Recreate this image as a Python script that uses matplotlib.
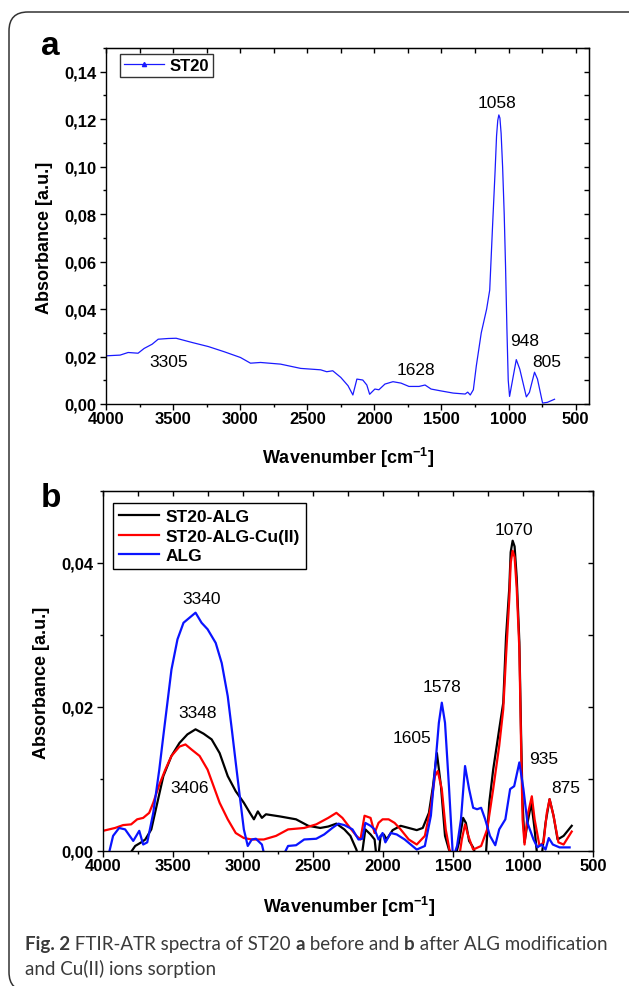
import matplotlib
matplotlib.use("Agg")
import matplotlib.pyplot as plt
from matplotlib.ticker import MultipleLocator, FuncFormatter
from matplotlib.patches import FancyBboxPatch

plt.rcParams['font.family'] = ['Liberation Sans', 'DejaVu Sans']
plt.rcParams['mathtext.fontset'] = 'custom'
plt.rcParams['mathtext.rm'] = 'Liberation Sans'
plt.rcParams['mathtext.bf'] = 'Liberation Sans:bold'
plt.rcParams['mathtext.default'] = 'bf'
plt.rcParams['axes.unicode_minus'] = False

# Panel a: ST20 spectrum
st20_wn = [4000, 3895, 3835, 3761, 3716, 3656, 3611, 3536, 3477, 3357, 3237, 3118,
           2998, 2923, 2848, 2699, 2549, 2400, 2355, 2310, 2250, 2196, 2160, 2130,
           2086, 2056, 2035, 1996, 1966, 1921, 1861, 1801, 1742, 1667, 1622, 1577,
           1502, 1412, 1323, 1304, 1285, 1262, 1240, 1203, 1163, 1140, 1118, 1100,
           1089, 1080, 1072, 1064, 1055, 1044, 1032, 1022, 1012, 1002, 992, 964,
           942, 916, 867, 844, 806, 784, 746, 710, 657]
st20_ab = [0.0203, 0.0206, 0.0217, 0.0214, 0.0234, 0.0252, 0.0273, 0.0276, 0.0277, 0.0259, 0.0242, 0.0220,
           0.0196, 0.0172, 0.0175, 0.0168, 0.0150, 0.0144, 0.0136, 0.0140, 0.0112, 0.0077, 0.0038, 0.0105,
           0.0101, 0.0080, 0.0041, 0.0063, 0.0060, 0.0084, 0.0094, 0.0088, 0.0074, 0.0074, 0.0080, 0.0063,
           0.0055, 0.0046, 0.0042, 0.0050, 0.0038, 0.0060, 0.0160, 0.0300, 0.0400, 0.0480, 0.0760, 0.0980,
           0.1130, 0.1195, 0.1218, 0.1205, 0.1140, 0.1000, 0.0800, 0.0580, 0.0320, 0.0100, 0.0032, 0.0119,
           0.0187, 0.0147, 0.0030, 0.0049, 0.0134, 0.0105, 0.0004, 0.0007, 0.0020]
peaks_a = [("3305", 3531, 0.0181), ("1628", 1692, 0.0147), ("1058", 1089, 0.1269),
           ("948", 880, 0.0269), ("805", 716, 0.0181)]

# Panel b
alg_wn = [3966, 3928, 3885, 3842, 3784, 3741, 3713, 3684, 3641, 3598, 3569, 3540, 3511, 3468, 3425,
          3382, 3339, 3296, 3253, 3195, 3152, 3109, 3080, 3052, 3023, 2994, 2966, 2937, 2908, 2865,
          2836, 2736, 2678, 2621, 2563, 2477, 2420, 2362, 2319, 2276, 2218, 2175, 2147, 2126, 2089,
          2060, 2032, 2003, 1983, 1945, 1902, 1845, 1759, 1701, 1658, 1629, 1601, 1580, 1557, 1529,
          1500, 1471, 1443, 1414, 1385, 1356, 1328, 1299, 1270, 1236, 1198, 1170, 1126, 1092, 1063,
          1026, 997, 968, 925, 897, 868, 839, 816, 787, 739, 667]
alg_ab = [-0.001, 0.0021, 0.0032, 0.0030, 0.0014, 0.0028, 0.0009, 0.0012, 0.0053, 0.0113, 0.0160, 0.0206,
          0.0252, 0.0294, 0.0317, 0.0324, 0.0331, 0.0317, 0.0308, 0.0289, 0.0261, 0.0215, 0.0169, 0.0123,
          0.0076, 0.0030, 0.0007, 0.0016, 0.0017, 0.0009, -0.0015, -0.0015, 0.0007, 0.0008, 0.0016, 0.0017,
          0.0023, 0.0032, 0.0038, 0.0036, 0.0030, 0.0016, 0.0017, 0.0039, 0.0035, 0.0030, 0.0016, 0.0025,
          0.0012, 0.0025, 0.0023, 0.0016, 0.0002, 0.0007, 0.0049, 0.0113, 0.0178, 0.0206, 0.0178, 0.0090,
          -0.001, 0.0007, 0.0044, 0.0118, 0.0086, 0.0060, 0.0058, 0.0060, 0.0044, 0.0021, 0.0008, 0.0030,
          0.0044, 0.0086, 0.0090, 0.0123, 0.0086, 0.0039, 0.0016, 0.0005, 0.0009, 0.0002, 0.0018, 0.0009,
          0.0005, 0.0005]

st20alg_wn = [3830, 3770, 3727, 3698, 3655, 3612, 3569, 3511, 3454, 3397, 3339, 3282, 3224, 3167, 3109,
              3052, 2994, 2951, 2922, 2894, 2865, 2836, 2736, 2621, 2534, 2448, 2391, 2333, 2276, 2233,
              2190, 2161, 2126, 2089, 2060, 2040, 2017, 1994, 1974, 1931, 1874, 1816, 1759, 1716, 1672,
              1643, 1615, 1586, 1557, 1529, 1486, 1457, 1428, 1408, 1385, 1356, 1313, 1270, 1241, 1213,
              1170, 1141, 1121, 1098, 1088, 1074, 1060, 1045, 1026, 1014, 1003, 989, 968, 940, 917, 897,
              868, 839, 810, 782, 753, 710, 652]
st20alg_ab = [-0.001, 0.0007, 0.0012, 0.0016, 0.0030, 0.0067, 0.0104, 0.0132, 0.0150, 0.0162, 0.0169, 0.0163,
              0.0155, 0.0136, 0.0104, 0.0083, 0.0067, 0.0053, 0.0044, 0.0055, 0.0046, 0.0051, 0.0048, 0.0044,
              0.0035, 0.0032, 0.0034, 0.0038, 0.0030, 0.0021, 0.0002, -0.002, 0.0030, 0.0023, 0.0016, -0.002,
              0.0021, 0.0023, 0.0016, 0.0029, 0.0035, 0.0032, 0.0029, 0.0032, 0.0053, 0.0090, 0.0136, 0.0090,
              0.0021, 0.0002, -0.001, 0.0012, 0.0046, 0.0039, 0.0014, 0.0005, -0.002, -0.002, 0.0067, 0.0113,
              0.0169, 0.0206, 0.0298, 0.0365, 0.0415, 0.0431, 0.0423, 0.0380, 0.0290, 0.0165, 0.0067, 0.0012,
              0.0039, 0.0067, 0.0030, -0.001, -0.001, 0.0039, 0.0072, 0.0049, 0.0016, 0.0021, 0.0035]

cu_wn = [4000, 3914, 3856, 3799, 3756, 3713, 3670, 3641, 3598, 3555, 3511, 3454, 3411, 3368, 3310, 3253,
         3210, 3167, 3109, 3052, 2994, 2937, 2851, 2764, 2678, 2563, 2477, 2391, 2333, 2290, 2247, 2190,
         2161, 2132, 2089, 2060, 2032, 2003, 1960, 1917, 1874, 1816, 1759, 1701, 1658, 1629, 1609, 1580,
         1552, 1514, 1457, 1437, 1414, 1391, 1356, 1299, 1256, 1213, 1170, 1141, 1121, 1098, 1088, 1074,
         1060, 1045, 1026, 1014, 1003, 989, 968, 937, 917, 882, 853, 830, 810, 782, 747, 710, 652]
cu_ab = [0.0028, 0.0032, 0.0036, 0.0037, 0.0044, 0.0046, 0.0053, 0.0067, 0.0092, 0.0113, 0.0132, 0.0145,
         0.0148, 0.0141, 0.0132, 0.0113, 0.0090, 0.0067, 0.0044, 0.0025, 0.0018, 0.0016, 0.0016, 0.0021,
         0.0030, 0.0032, 0.0037, 0.0046, 0.0053, 0.0046, 0.0035, 0.0021, 0.0016, 0.0049, 0.0046, 0.0025,
         0.0039, 0.0044, 0.0044, 0.0039, 0.0030, 0.0016, 0.0009, 0.0021, 0.0062, 0.0104, 0.0111, 0.0086,
         0.0030, -0.001, -0.001, 0.0016, 0.0037, 0.0021, 0.0002, 0.0007, 0.0030, 0.0086, 0.0146, 0.0197,
         0.0271, 0.0350, 0.0400, 0.0417, 0.0408, 0.0365, 0.0280, 0.0150, 0.0044, 0.0009, 0.0049, 0.0076,
         0.0044, 0.0007, 0.0012, 0.0053, 0.0072, 0.0049, 0.0012, 0.0009, 0.0027]
peaks_b = [("3340", 3293, 0.0351), ("3348", 3321, 0.0192), ("3406", 3382, 0.0088),
           ("1578", 1579, 0.0229), ("1605", 1796, 0.0158), ("1070", 1064, 0.0447),
           ("935", 854, 0.0128), ("875", 696, 0.0088)]

W, H = 629, 987
fig = plt.figure(figsize=(W / 100, H / 100), dpi=100)


def px(x, y):
    return x / W, 1 - y / H


comma = FuncFormatter(lambda v, p: f'{v:.2f}'.replace('.', ','))


def style(ax, xmax, ymax, ymajor):
    ax.set_xlim(4000, xmax)
    ax.set_ylim(0, ymax)
    ax.xaxis.set_major_locator(MultipleLocator(500))
    ax.xaxis.set_minor_locator(MultipleLocator(250))
    ax.yaxis.set_major_locator(MultipleLocator(ymajor))
    ax.yaxis.set_minor_locator(MultipleLocator(0.01))
    ax.yaxis.set_major_formatter(comma)
    ax.tick_params(which='major', direction='out', length=4, width=1, labelsize=12, pad=1)
    ax.tick_params(which='minor', direction='out', length=2.5, width=1)
    ax.tick_params(axis='y', which='major', pad=3)
    for lab in ax.get_xticklabels() + ax.get_yticklabels():
        lab.set_fontweight('bold')
    for s in ax.spines.values():
        s.set_linewidth(1.0)
    top = ax.secondary_xaxis('top')
    top.xaxis.set_major_locator(MultipleLocator(500))
    top.xaxis.set_minor_locator(MultipleLocator(250))
    top.tick_params(which='both', direction='in', length=3.5, width=1, labeltop=False)
    right = ax.secondary_yaxis('right')
    right.yaxis.set_major_locator(MultipleLocator(ymajor))
    right.yaxis.set_minor_locator(MultipleLocator(0.01))
    right.tick_params(which='both', direction='in', length=3.5, width=1, labelright=False)


# ---- panel a
l, t, r, b = 106, 49, 589, 405
axa = fig.add_axes([l / W, 1 - b / H, (r - l) / W, (b - t) / H])
axa.plot(st20_wn, st20_ab, color='#1a1aff', lw=0.9, marker='^', markersize=3,
         markevery=[], label='ST20')
style(axa, 400, 0.15, 0.02)
for txt, x, y in peaks_a:
    axa.text(x, y, txt, fontsize=12.5, ha='center', va='center')
la = axa.legend(loc='upper left', bbox_to_anchor=((120 - l) / (r - l), 1 - (55 - t) / (b - t)),
                borderaxespad=0, fancybox=False, edgecolor='#333333', framealpha=1,
                prop={'weight': 'bold', 'size': 12}, handlelength=2.4, handletextpad=0.3,
                borderpad=0.25)
la.get_frame().set_linewidth(1.0)
la.legend_handles[0].set_markevery([1])

# ---- panel b
l, t, r, b = 103, 492, 593, 852
axb = fig.add_axes([l / W, 1 - b / H, (r - l) / W, (b - t) / H])
axb.plot(st20alg_wn, st20alg_ab, color='black', lw=1.6, label='ST20-ALG')
axb.plot(cu_wn, cu_ab, color='#ff0000', lw=1.6, label='ST20-ALG-Cu(II)')
axb.plot(alg_wn, alg_ab, color='#0a14ff', lw=1.6, label='ALG')
style(axb, 500, 0.05, 0.02)
for txt, x, y in peaks_b:
    axb.text(x, y, txt, fontsize=12.5, ha='center', va='center')
lb = axb.legend(loc='upper left', bbox_to_anchor=((113 - l) / (r - l), 1 - (504 - t) / (b - t)),
                borderaxespad=0, fancybox=False, edgecolor='black', framealpha=1,
                prop={'weight': 'bold', 'size': 12.5}, handlelength=2.3, handletextpad=0.4,
                borderpad=0.35, labelspacing=0.25)
lb.get_frame().set_linewidth(1.0)

# axis titles and panel letters
for (x, y) in [(348, 458), (349, 907)]:
    fig.text(*px(x, y), 'Wavenumber [cm$^{-1}$]', fontsize=13, fontweight='bold',
             ha='center', va='center')
fig.text(*px(45, 238), 'Absorbance [a.u.]', fontsize=13, fontweight='bold',
         rotation=90, ha='center', va='center')
fig.text(*px(42, 683), 'Absorbance [a.u.]', fontsize=13, fontweight='bold',
         rotation=90, ha='center', va='center')
fig.text(*px(41, 55), 'a', fontsize=24, fontweight='bold', va='baseline')
fig.text(*px(41, 507), 'b', fontsize=24, fontweight='bold', va='baseline')

# rounded frame
frame = FancyBboxPatch((9 / W, 1 - 992 / H), 640 / W, (992 - 13) / H,
                       boxstyle='round,pad=0,rounding_size=0.03', transform=fig.transFigure,
                       fill=False, edgecolor='#333333', linewidth=1.1, mutation_aspect=W / H)
fig.patches.append(frame)

# caption
renderer = fig.canvas.get_renderer()
cap_font = ['Lato', 'DejaVu Sans']


def caption_line(pieces, x0, y0):
    x = x0
    for s, bold in pieces:
        tx = fig.text(*px(x, y0), s, fontsize=13.5, family=cap_font, color='#3a3a3a',
                      fontweight='bold' if bold else 'normal', va='baseline', ha='left')
        x += tx.get_window_extent(renderer).width


caption_line([("Fig. 2", True), (" FTIR-ATR spectra of ST20 ", False), ("a", True),
              (" before and ", False), ("b", True), (" after ALG modification", False)], 25, 950)
caption_line([("and Cu(II) ions sorption", False)], 25, 975)

fig.savefig('out.png', dpi=100)
